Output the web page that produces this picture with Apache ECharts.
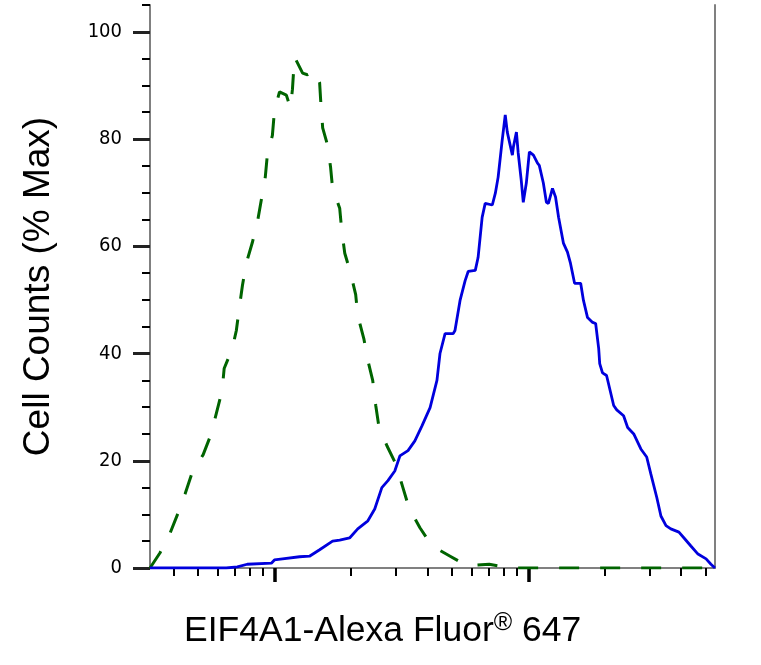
<!DOCTYPE html>
<html>
<head>
<meta charset="utf-8">
<title>EIF4A1 histogram</title>
<script src="https://cdn.jsdelivr.net/npm/echarts@6/dist/echarts.min.js"></script>
<style>
    html, body { margin: 0; padding: 0; background: #fff; }
    #chart { width: 761px; height: 665px; }
</style>
</head>
<body>
<div id="chart"></div>
<script>
// x = log10 of fluorescence intensity, y = % of max cell count
var blueX = [2.510, 2.810, 2.854, 2.893, 2.988, 3.000, 3.032, 3.099, 3.138, 3.178, 3.229, 3.257, 3.296,
    3.328, 3.368, 3.395, 3.423, 3.447, 3.474, 3.494, 3.526, 3.553, 3.581, 3.613, 3.640, 3.652, 3.672,
    3.704, 3.711, 3.731, 3.751, 3.763, 3.791, 3.802, 3.818, 3.830, 3.858, 3.870, 3.881, 3.897, 3.909,
    3.917, 3.937, 3.941, 3.953, 3.960, 3.972, 3.980, 3.992, 4.004, 4.020, 4.036, 4.043, 4.059, 4.071,
    4.079, 4.095, 4.107, 4.119, 4.138, 4.154, 4.166, 4.182, 4.206, 4.217, 4.233, 4.253, 4.265, 4.277,
    4.281, 4.292, 4.308, 4.336, 4.348, 4.375, 4.391, 4.415, 4.443, 4.466, 4.482, 4.506, 4.522, 4.542,
    4.561, 4.593, 4.613, 4.640, 4.668, 4.700, 4.719, 4.735];
var blueY = [0, 0, 0.2, 0.7, 0.9, 1.5, 1.7, 2.1, 2.2, 3.4, 5.0, 5.2, 5.6,
    7.3, 8.8, 11.0, 15.0, 16.3, 18.1, 20.9, 21.9, 23.7, 26.5, 29.9, 35.0, 40.0, 43.7,
    43.7, 44.3, 49.9, 53.6, 55.3, 55.5, 57.9, 65.4, 68.0, 67.7, 69.9, 72.9, 79.8, 84.5,
    81.3, 77.0, 78.5, 81.3, 77.4, 72.3, 68.2, 71.8, 77.6, 77.0, 75.5, 75.1, 71.8, 68.2,
    68.0, 70.8, 69.2, 65.4, 60.6, 58.9, 56.8, 53.1, 53.1, 49.9, 46.7, 45.8, 45.6, 40.9,
    38.1, 36.4, 35.9, 30.3, 29.5, 28.4, 26.2, 25.0, 22.2, 20.7, 17.6, 13.1, 9.7, 7.9,
    7.3, 6.7, 5.6, 4.1, 2.6, 1.7, 0.7, 0];

var greenX = [2.510, 2.549, 2.589, 2.621, 2.648, 2.676, 2.719, 2.751, 2.771, 2.794, 2.802, 2.834,
    2.850, 2.862, 2.874, 2.889, 2.913, 2.933, 2.949, 2.964, 2.972, 2.992, 3.000, 3.020, 3.047,
    3.063, 3.071, 3.079, 3.111, 3.130, 3.158, 3.178, 3.182, 3.190, 3.209, 3.221, 3.229, 3.257,
    3.265, 3.277, 3.300, 3.320, 3.328, 3.352, 3.368, 3.387, 3.399, 3.411, 3.443, 3.478, 3.506,
    3.530, 3.573, 3.621, 3.692, 3.759, 3.846, 3.929, 4.735];
var greenY = [0, 2.8, 6.5, 10.3, 13.8, 17.8, 21.1, 25.0, 28.8, 33.1, 37.2, 40.9,
    44.3, 48.6, 52.7, 56.8, 60.7, 64.5, 68.8, 72.9, 77.0, 80.7, 85.2, 88.8, 88.2,
    85.8, 89.3, 95.3, 92.3, 92.0, 92.9, 90.5, 87.3, 82.1, 78.9, 74.8, 70.8, 67.1,
    63.0, 58.7, 55.0, 51.0, 47.1, 42.8, 38.7, 35.0, 30.3, 26.5, 22.8, 19.4, 15.0,
    11.2, 7.5, 4.1, 2.2, 0.4, 0.7, 0, 0];

var xMin = 2.51;
var xMax = 4.735;
var xMajorTicks = [1000, 10000];
var xMinorTicks = [400, 500, 600, 700, 800, 900,
    2000, 3000, 4000, 5000, 6000, 7000, 8000, 9000,
    20000, 30000, 40000, 50000];
var yLabels = [0, 20, 40, 60, 80, 100];
var yMinorTicks = [5, 10, 15, 25, 30, 35, 45, 50, 55, 65, 70, 75, 85, 90, 95, 105];

var chart = echarts.init(document.getElementById('chart'));

var axisGrey = '#808080';
var tickFont = "'Liberation Sans Narrow', 'Arial Narrow', 'DejaVu Sans Condensed', sans-serif";
var titleFont = "'Liberation Sans', Arial, sans-serif";

function pairs(xs, ys) {
    return xs.map(function (x, i) { return [x, ys[i]]; });
}
function logs(list) {
    return list.map(function (v) { return Math.log10(v); });
}

var noLabel = { show: false };
var noSplit = { show: false };

chart.setOption({
    animation: false,
    backgroundColor: '#fff',
    title: {
        left: 184,
        top: 611,
        padding: 0,
        text: '{a|EIF4A1-Alexa Fluor}{r|®}{a| 647}',
        textStyle: {
            fontWeight: 'normal',
            rich: {
                a: { fontSize: 35.5, fontWeight: 'normal', fontFamily: titleFont, color: '#000', lineHeight: 40 },
                r: { fontSize: 25, fontWeight: 'normal', fontFamily: titleFont, color: '#000', lineHeight: 28, verticalAlign: 'top' }
            }
        }
    },
    grid: {
        left: 150,
        right: 46,
        top: 5,
        bottom: 97
    },
    xAxis: [
        {
            type: 'value',
            min: xMin,
            max: xMax,
            position: 'bottom',
            axisLine: { show: true, lineStyle: { color: axisGrey, width: 2 } },
            axisTick: {
                show: true,
                customValues: logs(xMinorTicks),
                length: 8,
                lineStyle: { color: '#000', width: 2 }
            },
            axisLabel: noLabel,
            splitLine: noSplit
        },
        {
            type: 'value',
            min: xMin,
            max: xMax,
            position: 'bottom',
            axisLine: { show: false },
            axisTick: {
                show: true,
                customValues: logs(xMajorTicks),
                length: 14,
                lineStyle: { color: '#000', width: 3.5 }
            },
            axisLabel: noLabel,
            splitLine: noSplit
        },
        {
            type: 'value',
            min: xMin,
            max: xMax,
            position: 'top',
            axisLine: { show: true, lineStyle: { color: axisGrey, width: 2 } },
            axisTick: { show: false },
            axisLabel: noLabel,
            splitLine: noSplit
        }
    ],
    yAxis: [
        {
            type: 'value',
            min: 0,
            max: 105,
            position: 'left',
            name: 'Cell Counts (% Max)',
            nameLocation: 'middle',
            nameGap: 93,
            nameTextStyle: { fontSize: 37, fontFamily: titleFont, color: '#000' },
            axisLine: { show: true, lineStyle: { color: axisGrey, width: 2 } },
            axisTick: {
                show: true,
                customValues: yLabels,
                length: 17,
                lineStyle: { color: '#222', width: 3 }
            },
            axisLabel: {
                customValues: yLabels,
                margin: 28,
                fontSize: 20,
                fontFamily: tickFont,
                color: '#000'
            },
            splitLine: noSplit
        },
        {
            type: 'value',
            min: 0,
            max: 105,
            position: 'left',
            axisLine: { show: false },
            axisTick: {
                show: true,
                customValues: yMinorTicks,
                length: 8,
                lineStyle: { color: '#000', width: 2 }
            },
            axisLabel: noLabel,
            splitLine: noSplit
        },
        {
            type: 'value',
            min: 0,
            max: 105,
            position: 'right',
            axisLine: { show: true, lineStyle: { color: axisGrey, width: 2 } },
            axisTick: { show: false },
            axisLabel: noLabel,
            splitLine: noSplit
        }
    ],
    series: [
        {
            name: 'control',
            type: 'line',
            xAxisIndex: 0,
            yAxisIndex: 0,
            data: pairs(greenX, greenY),
            showSymbol: false,
            symbol: 'none',
            lineStyle: { color: '#006400', width: 3, type: [20, 21] },
            z: 3
        },
        {
            name: 'EIF4A1',
            type: 'line',
            xAxisIndex: 0,
            yAxisIndex: 0,
            data: pairs(blueX, blueY),
            showSymbol: false,
            symbol: 'none',
            lineStyle: { color: '#0000dd', width: 2.8 },
            z: 4
        }
    ]
});
</script>
</body>
</html>
